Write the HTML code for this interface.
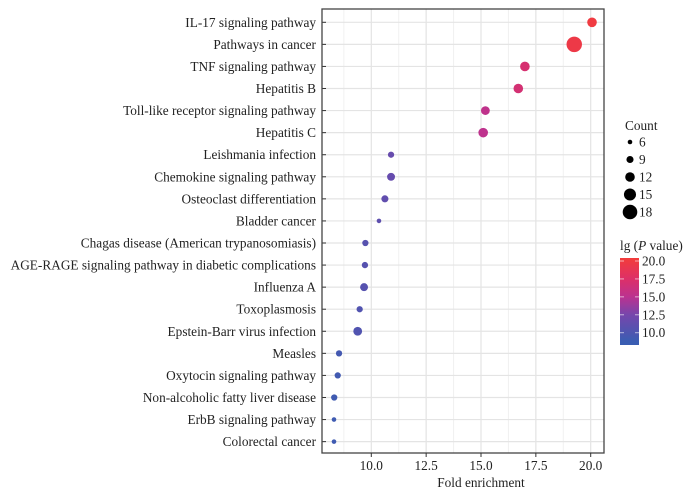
<!DOCTYPE html>
<html><head><meta charset="utf-8">
<style>
body{margin:0;background:#fff;}
svg{display:block;font-family:"Liberation Serif",serif;}
</style></head>
<body>
<svg id="chart" width="691" height="496"></svg>
<script>
const categories = ["IL-17 signaling pathway","Pathways in cancer","TNF signaling pathway","Hepatitis B","Toll-like receptor signaling pathway","Hepatitis C","Leishmania infection","Chemokine signaling pathway","Osteoclast differentiation","Bladder cancer","Chagas disease (American trypanosomiasis)","AGE-RAGE signaling pathway in diabetic complications","Influenza A","Toxoplasmosis","Epstein-Barr virus infection","Measles","Oxytocin signaling pathway","Non-alcoholic fatty liver disease","ErbB signaling pathway","Colorectal cancer"];
const foldEnrichment = [20.06,19.25,17.0,16.7,15.2,15.1,10.9,10.9,10.62,10.35,9.73,9.71,9.67,9.47,9.38,8.53,8.47,8.31,8.3,8.3];
const counts = [12,19,12,12,11,12,8,10,9,6,8,8,10,8,11,8,8,8,6,6];
const lgP = [20.0,19.6,17.0,16.8,15.3,15.2,11.6,11.5,11.2,11.0,10.6,10.5,10.5,10.3,10.2,9.4,9.3,9.2,9.1,9.1];
const xTicks = [10.0,12.5,15.0,17.5,20.0];
const xMinor = [8.75,11.25,13.75,16.25,18.75];
const sizeTicks = [6,9,12,15,18];
const colorTicks = [10.0,12.5,15.0,17.5,20.0];

const NS="http://www.w3.org/2000/svg";
const svg=document.getElementById('chart');
function mk(tag,attrs,parent){const e=document.createElementNS(NS,tag);for(const k in attrs)e.setAttribute(k,attrs[k]);(parent||svg).appendChild(e);return e;}
const L=322,R=604,T=9,B=453;
const FS='13.3';
const x=v=>371.3+(v-10)*21.94;
const y=i=>22.3+i*22.07;
const r=c=>2.3+(c-6)*5/12;
const cMin=8.8,cMax=20.3;
const stops=[[8.8,[58,93,178]],[12.5,[118,70,172]],[15,[187,50,144]],[17.5,[221,48,104]],[20.3,[242,60,60]]];
function col(v){v=Math.max(cMin,Math.min(cMax,v));for(let i=0;i<stops.length-1;i++){const a=stops[i],b=stops[i+1];if(v<=b[0]){const t=(v-a[0])/(b[0]-a[0]);const c=a[1].map((q,k)=>Math.round(q+(b[1][k]-q)*t));return `rgb(${c.join(',')})`;}}return 'rgb(242,60,60)';}

const panel=mk('rect',{x:L,y:T,width:R-L,height:B-T,fill:'#fff'});


xMinor.forEach(v=>{const g=mk('line',{x1:x(v),x2:x(v),y1:T,y2:B,stroke:'#f0f0f0','stroke-width':1});

});
xTicks.forEach(v=>{const g=mk('line',{x1:x(v),x2:x(v),y1:T,y2:B,stroke:'#e4e4e4','stroke-width':1.2});

});
categories.forEach((c,i)=>{const g=mk('line',{x1:L,x2:R,y1:y(i),y2:y(i),stroke:'#e4e4e4','stroke-width':1.2});


const tk=mk('line',{x1:L,x2:L+4,y1:y(i),y2:y(i),stroke:'#333'});


const t=mk('text',{x:316,y:y(i)+4.5,'text-anchor':'end','font-size':FS,fill:'#222'});t.textContent=c;

});
const border=mk('rect',{x:L,y:T,width:R-L,height:B-T,fill:'none',stroke:'#444','stroke-width':1.3});


xTicks.forEach(v=>{const tk=mk('line',{x1:x(v),x2:x(v),y1:B,y2:B+4,stroke:'#333'});


const t=mk('text',{x:x(v),y:470,'text-anchor':'middle','font-size':FS,fill:'#222'});t.textContent=v.toFixed(1);

});
const xt=mk('text',{x:481,y:487,'text-anchor':'middle','font-size':FS,fill:'#222'});xt.textContent='Fold enrichment';



categories.forEach((c,i)=>{const d=mk('circle',{cx:x(foldEnrichment[i]),cy:y(i),r:r(counts[i]),fill:col(lgP[i])});

});

const st=mk('text',{x:625,y:130,'font-size':FS,fill:'#222'});st.textContent='Count';


sizeTicks.forEach((s,i)=>{const cy=142+i*17.5;
const d=mk('circle',{cx:630,cy:cy,r:r(s),fill:'#000'});


const t=mk('text',{x:639,y:cy+4.5,'font-size':FS,fill:'#222'});t.textContent=s;

});

const ct=mk('text',{x:620,y:250,'font-size':FS,fill:'#222'});
ct.innerHTML='lg (<tspan font-style="italic">P</tspan> value)';


const cbT=258,cbB=345;
const cy2=v=>332.7-(v-10)*(332.7-261)/10;
const defs=mk('defs',{});
const lg=mk('linearGradient',{id:'cg',x1:0,y1:1,x2:0,y2:0},defs);
stops.forEach(s=>{const off=(cbB-cy2(s[0]))/(cbB-cbT);mk('stop',{offset:Math.max(0,Math.min(1,off)),'stop-color':col(s[0])},lg);});
const cb=mk('rect',{x:620,y:cbT,width:19,height:cbB-cbT,fill:'url(#cg)'});


colorTicks.forEach(v=>{const tk=mk('line',{x1:620,x2:624,y1:cy2(v),y2:cy2(v),stroke:'#fff','stroke-opacity':0.6});


const tk2=mk('line',{x1:635,x2:639,y1:cy2(v),y2:cy2(v),stroke:'#fff','stroke-opacity':0.6});


const t=mk('text',{x:642,y:cy2(v)+4.5,'font-size':FS,fill:'#222'});t.textContent=v.toFixed(1);

});
</script>
</body></html>
